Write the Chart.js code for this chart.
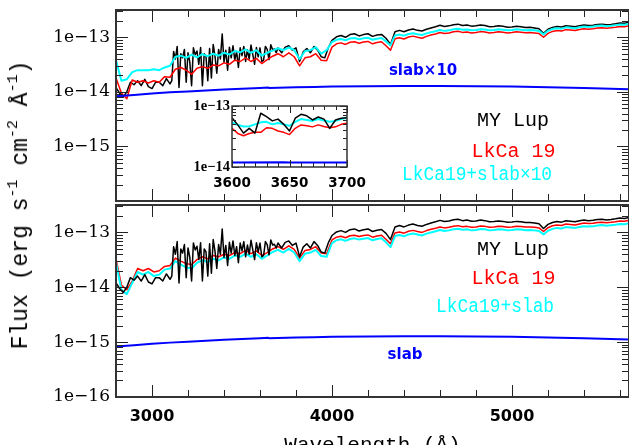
<!DOCTYPE html>
<html>
<head>
<meta charset="utf-8">
<script src="https://cdn.jsdelivr.net/npm/chart.js@4.4.1/dist/chart.umd.min.js"></script>
<style>
  html, body { margin: 0; padding: 0; background: #fff; width: 629px; height: 445px; overflow: hidden; }
  #wrap { position: relative; width: 629px; height: 445px; }
  canvas { position: absolute; }
  #ytitle {
    position: absolute; left: 21px; top: 205px;
    transform: translate(-50%, -50%) rotate(-90deg);
    font: 23px "Liberation Mono", monospace; white-space: nowrap; color: #000;
  }
  #ytitle sup { font-size: 15px; vertical-align: 10px; line-height: 0; }
</style>
</head>
<body>
<div id="wrap">
  <canvas id="topPanel" width="629" height="205" style="left:0;top:0"></canvas>
  <canvas id="bottomPanel" width="629" height="260" style="left:0;top:201px"></canvas>
  <canvas id="insetPanel" width="200" height="100" style="left:172px;top:96px"></canvas>
  <div id="ytitle">Flux (erg s<sup>-1</sup> cm<sup>-2</sup> Å<sup>-1</sup>)</div>
</div>
<script>
// flux values are in units of 1e-14 erg s-1 cm-2 A-1
var UNIT = 1e-14;

// MY Lup (black, same spectrum in both panels)
var myLupWave = [2800,2820,2840,2860,2880,2900,2920,2940,2960,2980,3000,3020,3040,3060,3080,3100,
  3110,3120,3130,3140,3150,3160,3170,3180,3190,3200,
  3210,3220,3230,3240,3250,3260,3270,3280,3290,3300,
  3310,3320,3330,3340,3350,3360,3370,3380,3390,3400,
  3410,3420,3430,3440,3450,3460,3470,3480,3490,3500,
  3510,3520,3530,3540,3550,3560,3570,3580,3590,3600,
  3610,3620,3630,3640,3650,3660,3670,3680,3690,3700,
  3720,3740,3760,3780,3800,3820,3840,3860,3880,3900,3920,3940,3960,3980,
  4000,4025,4050,4075,4100,4125,4150,4175,4200,4225,4250,4275,4300,4325,
  4350,4375,4400,4425,4450,4475,4500,4525,4550,4575,4600,4625,4650,4675,
  4700,4725,4750,4775,4800,4825,4850,4875,4900,4925,4950,4975,5000,5025,
  5050,5075,5100,5125,5150,5175,5200,5225,5250,5275,5300,5325,5350,5375,
  5400,5425,5450,5475,5500,5525,5550,5575,5600,5625,5650];
var myLup = [1.2,0.95,0.8,1.0,1.5,1.35,1.6,1.3,1.7,1.25,1.15,1.5,1.5,1.3,1.75,1.4,
  1.6,5.5,4.0,6.8,1.2,5.0,4.2,6.0,1.5,5.2,
  3.5,1.3,6.4,4.8,5.6,3.2,6.5,1.3,5.0,4.4,
  1.6,6.2,1.8,7.4,4.5,2.2,6.0,4.0,11.5,3.5,
  5.8,2.5,6.6,4.2,7.0,3.8,5.5,2.8,6.4,4.6,
  6.8,3.6,5.9,4.0,7.2,4.8,3.2,6.5,4.4,6.4,
  3.6,3.8,6.8,6.0,3.9,7.3,5.9,6.1,5.2,6.4,
  5.2,6.6,7.0,5.8,6.4,3.6,5.4,6.2,5.2,6.8,5.8,4.4,4.2,6.5,
  8.8,10.2,10.8,10.0,11.2,11.6,10.6,11.2,11.6,10.4,11.0,11.3,9.6,7.4,
  12.6,13.4,12.6,13.6,14.2,13.4,13.0,14.0,14.8,15.6,16.6,15.8,16.2,17.0,
  17.4,16.4,16.8,16.0,16.2,16.8,16.4,15.6,15.8,16.2,15.9,15.3,15.5,15.9,
  15.6,15.1,15.2,14.8,14.4,11.8,14.0,15.2,15.8,15.4,16.3,16.0,15.6,16.3,
  16.8,16.4,16.6,17.2,17.4,16.9,17.2,17.7,18.3,18.0,18.8];

// wavelength grid of the LkCa 19 based curves
var modelWave = [2800,2830,2860,2890,2920,2950,2980,3010,3040,3070,
  3100,3130,3160,3190,3220,3250,3280,3310,3340,3370,
  3400,3430,3460,3490,3520,3550,3580,3610,3640,3670,
  3700,3730,3760,3790,3820,3850,3880,3910,3940,3970,
  4000,4025,4050,4075,4100,4125,4150,4175,4200,4225,4250,4275,4300,4325,
  4350,4375,4400,4425,4450,4475,4500,4525,4550,4575,4600,4625,4650,4675,
  4700,4725,4750,4775,4800,4825,4850,4875,4900,4925,4950,4975,5000,5025,
  5050,5075,5100,5125,5150,5175,5200,5225,5250,5275,5300,5325,5350,5375,
  5400,5425,5450,5475,5500,5525,5550,5575,5600,5625,5650];

// LkCa 19 (red), upper panel
var lkca19Top = [1.8,0.95,0.75,1.65,1.5,1.6,1.45,1.6,1.5,1.9,
  1.85,2.6,2.8,2.5,2.1,2.7,2.9,2.7,3.1,3.0,
  3.4,3.2,3.8,3.6,4.2,3.6,4.1,3.3,3.9,4.5,
  5.0,4.4,5.2,4.4,3.0,4.2,4.4,5.0,3.8,3.7,
  6.6,7.6,7.9,7.4,8.1,8.3,7.8,8.2,8.4,7.6,8.0,8.3,7.0,5.8,
  9.4,9.8,9.3,10.1,10.5,10.0,9.6,10.4,11.0,11.5,12.2,11.7,12.0,12.6,
  12.9,12.3,12.5,12.0,12.2,12.7,12.5,12.0,12.2,12.6,12.4,12.0,12.2,12.6,
  12.4,12.1,12.2,12.0,11.7,10.0,11.8,12.8,13.3,13.0,13.8,13.6,13.3,13.9,
  14.4,14.1,14.3,14.8,15.0,14.6,14.9,15.3,15.8,15.6,16.3];

// LkCa19+slab x10 (cyan), upper panel
var modelTop = [3.8,1.6,1.7,2.3,2.5,2.5,2.5,2.6,2.5,2.8,
  3.0,4.4,4.6,4.2,4.8,4.3,4.9,4.5,5.0,4.6,
  5.2,4.8,5.6,5.3,6.0,5.2,5.8,4.6,5.2,5.7,
  6.3,5.8,6.5,5.8,4.0,5.6,5.8,6.6,5.0,5.8,
  8.2,9.0,9.3,8.8,9.5,9.7,9.2,9.6,9.8,9.0,9.4,9.7,8.4,7.1,
  10.8,11.2,10.7,11.5,11.9,11.4,11.0,11.8,12.4,12.9,13.6,13.1,13.4,14.0,
  14.3,13.7,13.9,13.4,13.6,14.1,13.9,13.4,13.6,14.0,13.8,13.4,13.6,14.0,
  13.8,13.5,13.6,13.4,13.1,11.3,13.2,14.2,14.7,14.4,15.2,15.0,14.7,15.3,
  15.8,15.5,15.7,16.2,16.4,16.0,16.3,16.7,17.2,17.0,17.7];

// LkCa 19 (red), lower panel
var lkca19Bottom = [3.3,1.1,0.9,1.3,2.2,2.0,2.2,1.9,2.0,2.4,
  2.5,3.4,3.0,2.7,2.6,3.2,3.6,3.3,3.8,3.6,
  4.0,3.8,4.3,4.1,4.7,4.1,4.6,3.8,4.3,5.0,
  5.5,4.9,5.7,4.9,3.4,4.7,4.9,5.5,4.2,4.1,
  7.3,8.2,8.5,8.0,8.7,8.9,8.4,8.8,9.0,8.2,8.6,8.9,7.5,6.2,
  9.8,10.2,9.7,10.5,10.9,10.4,10.0,10.8,11.4,11.9,12.6,12.1,12.4,13.0,
  13.3,12.7,12.9,12.4,12.6,13.1,12.9,12.4,12.6,13.0,12.8,12.4,12.6,13.0,
  12.8,12.5,12.6,12.4,12.1,10.4,12.2,13.2,13.7,13.4,14.2,14.0,13.7,14.3,
  14.8,14.5,14.7,15.2,15.4,15.0,15.3,15.7,16.2,16.0,16.7];

// LkCa19+slab (cyan), lower panel
var modelBottom = [2.8,0.9,0.75,1.2,1.9,1.7,1.9,1.6,1.7,2.1,
  2.2,3.0,2.6,2.3,2.2,2.8,3.1,2.9,3.3,3.1,
  3.5,3.3,3.8,3.6,4.1,3.6,4.0,3.3,3.8,4.4,
  4.8,4.3,5.0,4.3,3.0,4.1,4.3,4.8,3.7,3.6,
  6.4,7.2,7.5,7.0,7.6,7.8,7.4,7.7,7.9,7.2,7.6,7.8,6.6,5.4,
  8.6,9.0,8.5,9.2,9.6,9.2,8.8,9.5,10.0,10.5,11.1,10.6,10.9,11.4,
  11.7,11.2,11.4,10.9,11.1,11.5,11.4,10.9,11.1,11.4,11.3,10.9,11.1,11.4,
  11.3,11.0,11.1,10.9,10.6,9.2,10.7,11.6,12.1,11.8,12.5,12.3,12.1,12.6,
  13.0,12.8,12.9,13.4,13.6,13.2,13.5,13.8,14.3,14.1,14.7];

// accretion slab (blue)
var slabWave = [2800,2900,3000,3100,3200,3300,3400,3500,3600,3645,3650,3700,3800,3900,4000,4200,4400,4600,4800,5000,5200,5400,5650];
var slab = [0.083,0.088,0.093,0.098,0.102,0.106,0.110,0.114,0.118,0.120,0.118,0.119,0.121,0.123,0.125,0.127,0.128,0.128,0.127,0.125,0.122,0.118,0.112];

// inset, 3600-3700 A
var insetWave = [3600,3605,3610,3615,3620,3625,3630,3635,3640,3645,3650,3655,3660,3665,3670,3675,3680,3685,3690,3695,3700];
var insetMyLup = [6.4,4.9,3.6,4.3,3.6,7.6,6.7,5.7,6.1,5.0,3.9,6.3,7.3,6.9,5.9,6.6,6.1,4.3,5.9,6.3,6.4];
var insetModel = [5.4,4.9,4.6,4.65,5.0,5.4,5.5,5.0,5.25,5.0,4.75,5.5,6.1,5.9,5.7,6.1,5.8,5.5,5.7,6.1,6.4];
var insetLkCa19 = [4.3,3.55,3.25,3.55,3.7,3.7,4.4,4.3,3.9,3.7,3.4,4.3,4.9,4.75,4.55,4.9,4.6,4.4,4.55,5.0,5.2];

var xTicksMain = [3000, 4000, 5000];
var xTicksInset = [3600, 3650, 3700];
var decadesTop = [1e-15, 1e-14, 1e-13];
var decadesBottom = [1e-16, 1e-15, 1e-14, 1e-13];
var decadesInset = [1e-14, 1e-13];

var YMIN = 1e-16, YMAX = Math.pow(10, -12.5);

function pts(xs, ys, k) {
  return xs.map(function (w, i) { return {x: w, y: ys[i] * UNIT * (k || 1)}; });
}

function line(label, data, color, width) {
  return {label: label, data: data, borderColor: color, borderWidth: width, pointRadius: 0,
    tension: 0, fill: false, borderJoinStyle: 'round', clip: 0};
}

function expLabel(v) {
  return '1e\u2212' + Math.round(-Math.log10(v));
}

// inward ticks on all four sides plus the box
function framePlugin(o) {
  return {
    id: 'frame',
    afterDatasetsDraw: function (chart) {
      var ctx = chart.ctx, a = chart.chartArea, x = chart.scales.x, y = chart.scales.y;
      ctx.save();
      ctx.strokeStyle = '#222';
      ctx.lineWidth = 1;
      ctx.beginPath();
      for (var v = Math.ceil(x.min / o.xMinor) * o.xMinor; v <= x.max; v += o.xMinor) {
        var px = Math.round(x.getPixelForValue(v)) + 0.5;
        var len = (v % o.xMajor === 0) ? o.major : o.minor;
        ctx.moveTo(px, a.bottom); ctx.lineTo(px, a.bottom - len);
        ctx.moveTo(px, a.top); ctx.lineTo(px, a.top + len);
      }
      var lo = Math.floor(Math.log10(y.min)), hi = Math.ceil(Math.log10(y.max));
      for (var n = lo; n <= hi; n++) {
        for (var k = 1; k <= 9; k++) {
          var val = k * Math.pow(10, n);
          if (val < y.min * 0.999 || val > y.max * 1.001) continue;
          var py = Math.round(y.getPixelForValue(val)) + 0.5;
          var l = k === 1 ? o.major : o.minor;
          ctx.moveTo(a.left, py); ctx.lineTo(a.left + l, py);
          ctx.moveTo(a.right, py); ctx.lineTo(a.right - l, py);
        }
      }
      ctx.stroke();
      ctx.strokeStyle = '#333';
      ctx.lineWidth = o.frameWidth;
      ctx.strokeRect(a.left, a.top, a.right - a.left, a.bottom - a.top);
      ctx.restore();
    }
  };
}

// text labels placed at (wavelength, flux)
function notesPlugin(items) {
  return {
    id: 'notes',
    afterDraw: function (chart) {
      var ctx = chart.ctx, x = chart.scales.x, y = chart.scales.y;
      items.forEach(function (n) {
        ctx.save();
        ctx.font = n.font;
        ctx.fillStyle = n.color;
        ctx.textAlign = 'center';
        ctx.textBaseline = 'middle';
        var px = x.getPixelForValue(n.x), py = y.getPixelForValue(n.y * UNIT);
        if (n.width) ctx.fillText(n.text, px, py, n.width);
        else ctx.fillText(n.text, px, py);
        ctx.restore();
      });
    }
  };
}

function yAxis(decades, min, max, font, pad, width) {
  return {
    type: 'logarithmic', min: min, max: max,
    afterBuildTicks: function (s) { s.ticks = decades.map(function (v) { return {value: v}; }); },
    afterFit: function (s) { s.width = width; s.paddingTop = 0; s.paddingBottom = 0; },
    ticks: {autoSkip: false, padding: pad, color: '#000', font: font, callback: expLabel},
    grid: {display: false, drawTicks: false},
    border: {display: false}
  };
}

var monoFont = '20px "Liberation Mono"';
var slabFont = 'bold 15px "DejaVu Sans"';
var serifTicks = {family: 'DejaVu Serif', size: 17};

var baseOpts = {
  responsive: false, animation: false, devicePixelRatio: 1,
  plugins: {legend: {display: false}, tooltip: {enabled: false}}
};

// upper panel
new Chart(document.getElementById('topPanel'), {
  type: 'line',
  data: {datasets: [
    line('slab x10', pts(slabWave, slab, 10), '#0000ff', 2),
    line('LkCa19+slab x10', pts(modelWave, modelTop), '#00ffff', 2),
    line('LkCa 19', pts(modelWave, lkca19Top), '#ff0000', 1.5),
    line('MY Lup', pts(myLupWave, myLup), '#000000', 1.5)
  ]},
  options: Object.assign({}, baseOpts, {
    layout: {padding: {top: 10, bottom: 4, left: 0, right: 0}},
    scales: {
      x: {type: 'linear', min: 2800, max: 5650, display: false},
      y: yAxis(decadesTop, YMIN, YMAX, serifTicks, 6, 116)
    }
  }),
  plugins: [
    framePlugin({xMinor: 200, xMajor: 1000, major: 12, minor: 7, frameWidth: 2}),
    notesPlugin([
      {text: 'MY Lup', x: 5005, y: 0.29, color: '#000000', font: monoFont},
      {text: 'LkCa 19', x: 5008, y: 0.079, color: '#ff0000', font: monoFont},
      {text: 'LkCa19+slab\u00d710', x: 4806, y: 0.030, color: '#00ffff', font: monoFont, width: 150},
      {text: 'slab\u00d710', x: 4506, y: 2.4, color: '#0000ff', font: slabFont}
    ])
  ]
});

// lower panel
new Chart(document.getElementById('bottomPanel'), {
  type: 'line',
  data: {datasets: [
    line('slab', pts(slabWave, slab), '#0000ff', 2),
    line('MY Lup', pts(myLupWave, myLup), '#000000', 1.5),
    line('LkCa19+slab', pts(modelWave, modelBottom), '#00ffff', 2),
    line('LkCa 19', pts(modelWave, lkca19Bottom), '#ff0000', 1.5)
  ]},
  options: Object.assign({}, baseOpts, {
    layout: {padding: {top: 4, bottom: 0, left: 0, right: 0}},
    scales: {
      x: {
        type: 'linear', min: 2800, max: 5650,
        afterBuildTicks: function (s) { s.ticks = xTicksMain.map(function (v) { return {value: v}; }); },
        afterFit: function (s) { s.height = 64; s.paddingLeft = 0; s.paddingRight = 0; },
        ticks: {autoSkip: false, maxRotation: 0, padding: 10, color: '#000',
          font: {family: 'DejaVu Sans', size: 16, weight: 'bold'},
          callback: function (v) { return String(v); }},
        grid: {display: false, drawTicks: false},
        border: {display: false},
        title: {display: true, text: 'Wavelength (\u00c5)', color: '#000',
          font: {family: 'Liberation Mono', size: 21}, padding: {top: 0, bottom: 3}}
      },
      y: yAxis(decadesBottom, YMIN, YMAX, serifTicks, 6, 116)
    }
  }),
  plugins: [
    framePlugin({xMinor: 200, xMajor: 1000, major: 12, minor: 7, frameWidth: 2}),
    notesPlugin([
      {text: 'MY Lup', x: 5005, y: 4.8, color: '#000000', font: monoFont},
      {text: 'LkCa 19', x: 5008, y: 1.45, color: '#ff0000', font: monoFont},
      {text: 'LkCa19+slab', x: 4906, y: 0.45, color: '#00ffff', font: monoFont, width: 118},
      {text: 'slab', x: 4406, y: 0.059, color: '#0000ff', font: slabFont}
    ])
  ]
});

// inset, 3600-3700 A
new Chart(document.getElementById('insetPanel'), {
  type: 'line',
  data: {datasets: [
    line('slab x10', pts(slabWave, slab, 10), '#0000ff', 2),
    line('MY Lup', pts(insetWave, insetMyLup), '#000000', 1.5),
    line('LkCa19+slab x10', pts(insetWave, insetModel), '#00ffff', 2),
    line('LkCa 19', pts(insetWave, insetLkCa19), '#ff0000', 1.5)
  ]},
  options: Object.assign({}, baseOpts, {
    layout: {padding: {top: 10, bottom: 0, left: 0, right: 25}},
    scales: {
      x: {
        type: 'linear', min: 3600, max: 3700,
        afterBuildTicks: function (s) { s.ticks = xTicksInset.map(function (v) { return {value: v}; }); },
        afterFit: function (s) { s.height = 29; s.paddingLeft = 0; s.paddingRight = 0; },
        ticks: {autoSkip: false, maxRotation: 0, padding: 8, color: '#000',
          font: {family: 'DejaVu Sans', size: 13.5, weight: 'bold'},
          callback: function (v) { return String(v); }},
        grid: {display: false, drawTicks: false},
        border: {display: false}
      },
      y: yAxis(decadesInset, 1e-14, 1e-13, {family: 'Liberation Serif', size: 14.5, weight: 'bold'}, 2, 60)
    }
  }),
  plugins: [
    {id: 'insetBg', beforeDatasetsDraw: function (chart) {
      var a = chart.chartArea;
      chart.ctx.save();
      chart.ctx.fillStyle = '#fff';
      chart.ctx.fillRect(a.left, a.top, a.right - a.left, a.bottom - a.top);
      chart.ctx.restore();
    }},
    framePlugin({xMinor: 10, xMajor: 50, major: 7, minor: 4, frameWidth: 1.5})
  ]
});
</script>
</body>
</html>
